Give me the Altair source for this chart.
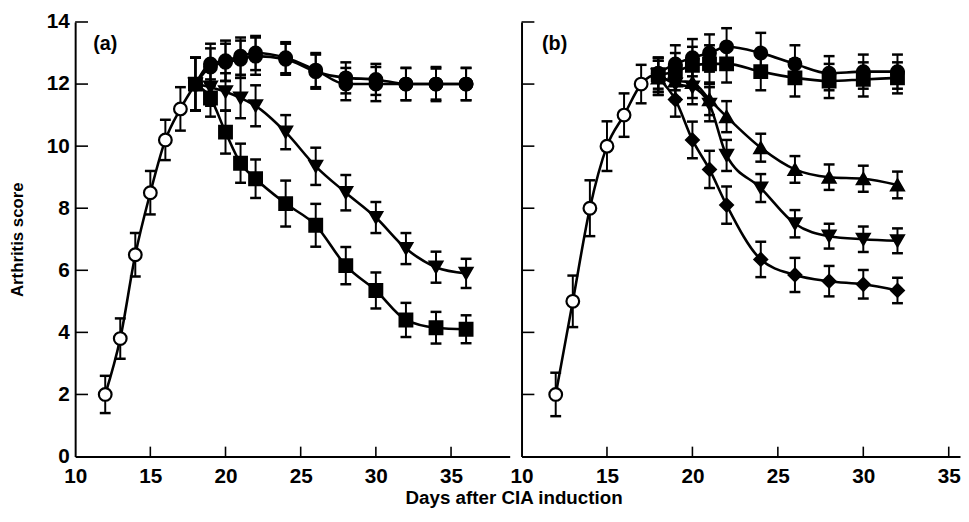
import altair as alt
import pandas as pd

FONT = "Liberation Sans"

# ---------------- Panel (a) ----------------
open_days_a = [12, 13, 14, 15, 16, 17]
open_vals_a = [2.0, 3.8, 6.5, 8.5, 10.2, 11.2]
open_err_a = [0.6, 0.65, 0.7, 0.7, 0.65, 0.7]

days_a = [18, 19, 20, 21, 22, 24, 26, 28, 30, 32, 34, 36]
circ1_a = [12.0, 12.65, 12.75, 12.9, 13.0, 12.85, 12.45, 12.0, 12.0, 12.0, 12.0, 12.0]
circ1_a_err = [0.85, 0.65, 0.65, 0.6, 0.55, 0.5, 0.55, 0.52, 0.55, 0.52, 0.55, 0.52]
circ2_a = [12.0, 12.55, 12.7, 12.8, 12.9, 12.8, 12.4, 12.2, 12.15, 12.0, 12.0, 12.0]
circ2_a_err = [0.85, 0.6, 0.6, 0.6, 0.6, 0.5, 0.55, 0.5, 0.5, 0.52, 0.5, 0.52]
tri_dn_a = [12.0, 11.9, 11.75, 11.55, 11.3, 10.45, 9.35, 8.5, 7.7, 6.7, 6.1, 5.9]
tri_dn_a_err = [0.85, 0.6, 0.6, 0.65, 0.66, 0.55, 0.6, 0.57, 0.5, 0.5, 0.5, 0.47]
sq_a = [12.0, 11.55, 10.45, 9.45, 8.95, 8.15, 7.45, 6.15, 5.35, 4.4, 4.15, 4.1]
sq_a_err = [0.85, 0.6, 0.69, 0.63, 0.62, 0.74, 0.69, 0.6, 0.58, 0.55, 0.51, 0.45]

# ---------------- Panel (b) ----------------
open_days_b = [12, 13, 14, 15, 16, 17]
open_vals_b = [2.0, 5.0, 8.0, 10.0, 11.0, 12.0]
open_err_b = [0.7, 0.83, 0.9, 0.8, 0.7, 0.62]

days_b = [18, 19, 20, 21, 22, 24, 26, 28, 30, 32]
circ_b = [12.35, 12.65, 12.85, 13.0, 13.2, 13.0, 12.65, 12.35, 12.4, 12.4]
circ_b_err = [0.5, 0.6, 0.6, 0.6, 0.6, 0.65, 0.6, 0.55, 0.55, 0.55]
sq_b = [12.3, 12.4, 12.6, 12.65, 12.65, 12.4, 12.2, 12.1, 12.15, 12.2]
sq_b_err = [0.55, 0.6, 0.6, 0.6, 0.6, 0.6, 0.6, 0.55, 0.55, 0.5]
tri_up_b = [12.2, 12.1, 12.05, 11.5, 10.95, 9.95, 9.25, 9.0, 8.95, 8.75]
tri_up_b_err = [0.55, 0.55, 0.5, 0.5, 0.5, 0.45, 0.43, 0.41, 0.42, 0.43]
tri_dn_b = [12.3, 12.0, 11.9, 11.35, 9.7, 8.65, 7.5, 7.1, 7.0, 6.95]
tri_dn_b_err = [0.55, 0.55, 0.55, 0.55, 0.5, 0.45, 0.44, 0.4, 0.41, 0.4]
dia_b = [12.2, 11.5, 10.2, 9.25, 8.1, 6.35, 5.85, 5.65, 5.55, 5.35]
dia_b_err = [0.55, 0.55, 0.59, 0.6, 0.6, 0.57, 0.55, 0.49, 0.46, 0.41]

y_ticks = [0, 2, 4, 6, 8, 10, 12, 14]
x_ticks = [10, 15, 20, 25, 30, 35]
panel_labels = ["(a)", "(b)"]

H = 440


def series_df(name, days, vals, errs, shape, fill):
    return pd.DataFrame({
        "day": days, "val": vals,
        "lo": [v - e for v, e in zip(vals, errs)],
        "hi": [v + e for v, e in zip(vals, errs)],
        "series": name, "shape": shape, "fillc": fill,
    })


def panel(series, open_s, width, xmax, label, show_y):
    pts = pd.concat([open_s] + series, ignore_index=True)
    first = series[0].iloc[[0]].copy()
    first["series"] = open_s["series"].iloc[0]
    lines = pd.concat([open_s, first] + series, ignore_index=True)

    xs = alt.Scale(domain=[10, xmax], nice=False, zero=False)
    ys = alt.Scale(domain=[0, 14], nice=False)
    xax = alt.Axis(values=x_ticks, ticks=False, tickSize=0, labelPadding=9, grid=False,
                   labelFlush=False, labelOverlap=False, title=None,
                   domainColor="black", domainWidth=2,
                   labelFont=FONT, labelFontSize=21, labelFontWeight="bold", labelColor="black")
    if show_y:
        yax = alt.Axis(values=y_ticks, ticks=False, tickSize=0, labelPadding=6, grid=False,
                       title="Arthritis score", titleFont=FONT, titleFontSize=17,
                       titleFontWeight="bold", titleColor="black", titlePadding=20,
                       domainColor="black", domainWidth=2,
                       labelFont=FONT, labelFontSize=21, labelFontWeight="bold", labelColor="black")
    else:
        yax = alt.Axis(values=y_ticks, ticks=False, tickSize=0, labels=False, grid=False,
                       title=None, domainColor="black", domainWidth=2)

    X = alt.X("day:Q", scale=xs, axis=xax)
    Y = alt.Y("val:Q", scale=ys, axis=yax)

    base = alt.Chart(pts)
    rules = base.mark_rule(color="black", strokeWidth=2).encode(
        x=alt.X("day:Q", scale=xs), y=alt.Y("lo:Q", scale=ys), y2="hi:Q")
    cap_lo = base.mark_tick(orient="horizontal", size=11, thickness=2.5, color="black", opacity=1).encode(
        x=alt.X("day:Q", scale=xs), y=alt.Y("lo:Q", scale=ys))
    cap_hi = base.mark_tick(orient="horizontal", size=11, thickness=2.5, color="black", opacity=1).encode(
        x=alt.X("day:Q", scale=xs), y=alt.Y("hi:Q", scale=ys))
    line = alt.Chart(lines).mark_line(color="black", strokeWidth=2.6, interpolate="monotone").encode(
        x=X, y=Y, detail="series:N", order="day:Q")
    marks = base.mark_point(filled=True, stroke="black", strokeWidth=2.2, opacity=1, size=165).encode(
        x=alt.X("day:Q", scale=xs), y=alt.Y("val:Q", scale=ys),
        shape=alt.Shape("shape:N", scale=None),
        fill=alt.Fill("fillc:N", scale=None))

    xt = pd.DataFrame({"t": [t for t in x_ticks if t > 10]})
    yt = pd.DataFrame({"t": [t for t in y_ticks if t > 0]})
    xtick = alt.Chart(xt).mark_rule(color="black", strokeWidth=1.6).encode(
        x=alt.X("t:Q", scale=xs), y=alt.value(H), y2=alt.value(H - 10))
    ytick = alt.Chart(yt).mark_rule(color="black", strokeWidth=1.6).encode(
        y=alt.Y("t:Q", scale=ys), x=alt.value(0), x2=alt.value(13))

    lab = alt.Chart(pd.DataFrame({"x": [11.2], "y": [13.3], "t": [label]})).mark_text(
        align="left", baseline="middle", font=FONT, fontSize=20, fontWeight="bold", color="black"
    ).encode(x=alt.X("x:Q", scale=xs), y=alt.Y("y:Q", scale=ys), text="t:N")

    return alt.layer(line, rules, cap_lo, cap_hi, marks, xtick, ytick, lab).properties(
        width=width, height=H)


open_a = series_df("open_a", open_days_a, open_vals_a, open_err_a, "circle", "white")
ser_a = [
    series_df("c1", days_a, circ1_a, circ1_a_err, "circle", "black"),
    series_df("c2", days_a, circ2_a, circ2_a_err, "circle", "black"),
    series_df("td", days_a, tri_dn_a, tri_dn_a_err, "triangle-down", "black"),
    series_df("sq", days_a, sq_a, sq_a_err, "square", "black"),
]
open_b = series_df("open_b", open_days_b, open_vals_b, open_err_b, "circle", "white")
ser_b = [
    series_df("cb", days_b, circ_b, circ_b_err, "circle", "black"),
    series_df("sb", days_b, sq_b, sq_b_err, "square", "black"),
    series_df("tub", days_b, tri_up_b, tri_up_b_err, "triangle-up", "black"),
    series_df("tdb", days_b, tri_dn_b, tri_dn_b_err, "triangle-down", "black"),
    series_df("db", days_b, dia_b, dia_b_err, "diamond", "black"),
]

pa = panel(ser_a, open_a, 440, 38.9, panel_labels[0], True)
pb = panel(ser_b, open_b, 444, 35.66, panel_labels[1], False)

chart = alt.hconcat(pa, pb, spacing=0).properties(
    title=alt.TitleParams(text="Days after CIA induction", orient="bottom", anchor="middle",
                          font=FONT, fontSize=19, fontWeight="bold", color="black", offset=3,
                          dx=30),
    padding={"left": 0, "top": 0, "right": 0, "bottom": 0},
).configure_view(stroke=None).configure_concat(spacing=0)

chart.save("out.html", embed_options={"renderer": "svg", "actions": False})
